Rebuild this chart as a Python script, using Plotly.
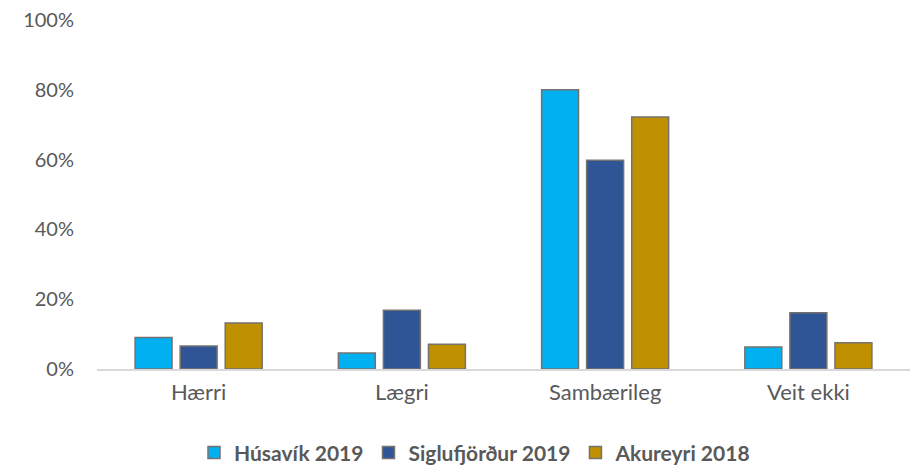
import plotly.graph_objects as go

# answer categories and share per town (percent)
categories = ["Hærri", "Lægri", "Sambærileg", "Veit ekki"]
husavik_2019 = [9.0, 4.6, 80.0, 6.3]
siglufjordur_2019 = [6.6, 16.8, 59.8, 16.1]
akureyri_2018 = [13.2, 7.1, 72.2, 7.5]

series = [
    ("Húsavík 2019", husavik_2019, "#00B0F0"),
    ("Siglufjörður 2019", siglufjordur_2019, "#2F5597"),
    ("Akureyri 2018", akureyri_2018, "#BF9000"),
]

fig = go.Figure()
for name, vals, color in series:
    fig.add_trace(go.Bar(
        x=categories,
        y=vals,
        name=name,
        marker=dict(color=color, line=dict(color="#767171", width=1.5)),
    ))

fig.update_layout(
    width=917,
    height=465,
    barmode="group",
    bargap=0.335,
    bargroupgap=0.18,
    plot_bgcolor="white",
    paper_bgcolor="white",
    font=dict(family="Lato, Open Sans, sans-serif", size=20, color="#595959"),
    margin=dict(l=97, r=7, t=17, b=96),
    showlegend=True,
    legend=dict(
        orientation="h",
        xref="container",
        yref="container",
        x=0.518,
        xanchor="center",
        y=0.026,
        yanchor="middle",
        font=dict(size=21, color="#595959", weight="bold"),
        itemwidth=30,
        traceorder="normal",
    ),
)

fig.update_yaxes(
    range=[0, 100],
    tickvals=[0, 20, 40, 60, 80, 100],
    ticktext=["0%", "20%", "40%", "60%", "80%", "100%"],
    showgrid=False,
    zeroline=False,
    showline=False,
    ticks="",
    ticklabelstandoff=22,
)

fig.update_xaxes(
    showline=True,
    linecolor="#D9D9D9",
    linewidth=1.5,
    showgrid=False,
    ticks="",
    tickfont=dict(size=22),
    ticklabelstandoff=3,
)

# drop the default body margin so the chart sits at the page corner
fig.write_html("out.html",
               config={"displayModeBar": False},
               post_script="document.body.style.margin='0px';")
